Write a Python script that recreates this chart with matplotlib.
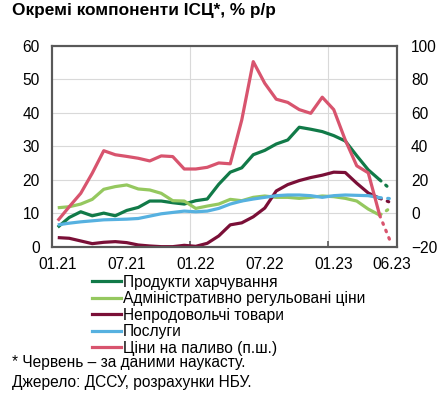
import matplotlib
matplotlib.use("Agg")
import matplotlib.pyplot as plt
from matplotlib.lines import Line2D

plt.rcParams["font.family"] = ["Liberation Sans", "DejaVu Sans"]

months = ["01.21", "02.21", "03.21", "04.21", "05.21", "06.21", "07.21", "08.21", "09.21", "10.21",
          "11.21", "12.21", "01.22", "02.22", "03.22", "04.22", "05.22", "06.22", "07.22", "08.22",
          "09.22", "10.22", "11.22", "12.22", "01.23", "02.23", "03.23", "04.23", "05.23", "06.23"]
tick_labels = ["01.21", "07.21", "01.22", "07.22", "01.23", "06.23"]

food = [5.9, 8.8, 10.5, 9.3, 10.1, 9.3, 10.9, 11.8, 13.7, 13.7, 13.2, 12.8, 13.8, 14.3, 18.7,
        22.3, 23.6, 27.5, 28.8, 30.7, 31.9, 35.7, 35.1, 34.4, 33.2, 31.6, 27.2, 23.0, 20.0, 17.0]
admin = [11.7, 12.0, 12.8, 14.2, 17.2, 18.0, 18.5, 17.3, 17.0, 16.0, 13.8, 13.7, 11.5, 12.2, 12.8,
         14.2, 13.8, 14.8, 15.2, 14.8, 14.8, 14.5, 14.8, 15.2, 15.0, 14.5, 13.7, 11.3, 9.5, 11.8]
nonfood = [2.8, 2.6, 1.8, 1.0, 1.4, 1.6, 1.3, 0.6, 0.3, 0.1, 0.1, 0.5, 0.2, 1.1, 3.3,
           6.6, 7.2, 9.0, 11.6, 16.7, 18.6, 19.8, 20.7, 21.4, 22.3, 22.2, 19.0, 16.1, 14.5, 13.2]
services = [6.6, 7.1, 7.5, 7.8, 8.1, 8.2, 8.3, 8.5, 9.2, 9.9, 10.3, 10.7, 10.5, 10.7, 11.5,
            12.8, 13.7, 14.3, 14.8, 15.3, 15.5, 15.5, 15.3, 14.8, 15.3, 15.5, 15.4, 15.3, 14.7, 14.4]
fuel = [-4.3, 4.0, 12.0, 24.0, 37.4, 35.0, 34.0, 32.9, 31.3, 34.3, 33.9, 26.5, 26.5, 27.5, 30.1,
        29.6, 55.7, 90.5, 77.6, 68.1, 66.2, 61.9, 59.7, 69.3, 61.9, 43.8, 28.4, 24.2, -1.2, -18.0]

labels = ["Продукти харчування", "Адміністративно регульовані ціни",
          "Непродовольчі товари", "Послуги", "Ціни на паливо (п.ш.)"]
colors = ["#117a48", "#95c85f", "#7a0f37", "#56b1e0", "#d8546e"]

LW = 2.3
GRID = "#d9d9d9"
FRAME = "#595959"
FS = 11.2
DOTS = (0, (0.5, 2.0))

fig = plt.figure(figsize=(4.37, 4.01), dpi=100)
ax = fig.add_axes([52 / 437, 1 - 247 / 401, 345 / 437, (247 - 45.7) / 401])
ax2 = ax.twinx()

x = list(range(len(months)))
n = len(months)

# solid up to May, dotted nowcast segment to June
for vals, col in zip([food, admin, nonfood, services], colors[:4]):
    ax.plot(x[:n - 1], vals[:n - 1], color=col, lw=LW, solid_capstyle="butt", zorder=3)
    ax.plot(x[n - 2:], vals[n - 2:], color=col, lw=LW, ls=DOTS,
            dash_capstyle="round", zorder=3)
ax2.plot(x[:n - 1], fuel[:n - 1], color=colors[4], lw=LW, solid_capstyle="butt", zorder=3)
ax2.plot(x[n - 2:], fuel[n - 2:], color=colors[4], lw=LW, ls=DOTS,
         dash_capstyle="round", zorder=3)

ax.set_xlim(-0.5, n - 0.5)
ax.set_ylim(0, 60)
ax.set_yticks(range(0, 61, 10))
ax2.set_ylim(-20, 100)
ax2.set_yticks(range(-20, 101, 20))

ax.set_xticks([months.index(m) for m in tick_labels])
ax.set_xticklabels(tick_labels)
ax.set_xticks([11.5, 23.5], minor=True)
ax.tick_params(axis="x", which="major", length=0, pad=7, labelsize=FS, colors="black")
ax.tick_params(axis="x", which="minor", length=4, direction="in", color=FRAME, width=1.2)
ax.tick_params(axis="y", length=0, pad=9, labelsize=FS)
ax2.tick_params(axis="y", length=0, pad=10, labelsize=FS)

ax.grid(axis="y", color=GRID, lw=0.8)
ax.grid(axis="x", which="minor", color=GRID, lw=0.8)
ax.set_axisbelow(True)
for a in (ax, ax2):
    for s in a.spines.values():
        s.set_color(FRAME)
        s.set_linewidth(1.5)

fig.text(12 / 437, 1 - 10 / 401, "Окремі компоненти ІСЦ*, % р/р", fontsize=12.4,
         weight="bold", va="center", ha="left")

handles = [Line2D([], [], color=c, lw=LW) for c in colors]
fig.legend(handles, labels, loc="upper left", bbox_to_anchor=(92 / 437, 1 - 274.5 / 401),
           frameon=False, fontsize=FS, handlelength=1.85, handletextpad=0.12,
           borderpad=0, borderaxespad=0, labelspacing=0.1)

fig.text(12 / 437, 1 - 362 / 401, "* Червень – за даними наукасту.", fontsize=FS,
         va="center", ha="left")
fig.text(12 / 437, 1 - 382 / 401, "Джерело: ДССУ, розрахунки НБУ.", fontsize=FS,
         va="center", ha="left")

fig.savefig("out.png", dpi=100)
